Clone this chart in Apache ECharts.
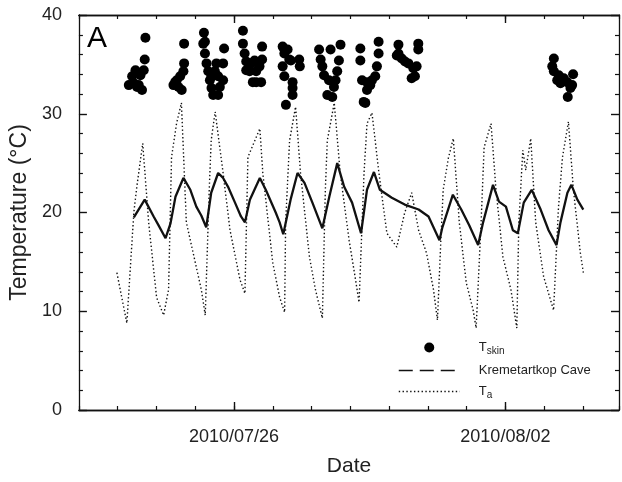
<!DOCTYPE html>
<html>
<head>
<meta charset="utf-8">
<script src="https://cdn.jsdelivr.net/npm/echarts@6/dist/echarts.min.js"></script>
<style>html,body{margin:0;padding:0;background:#fff}#c{width:622px;height:482px}</style>
</head>
<body>
<div id="c"></div>
<script>
// ---- data (times are 2010, "MM-DD HH:MM") ----
const xRange = ['07-22 00:00', '08-04 22:20'];
const tickTimes = ['07-26 00:00', '08-02 00:00'];
const tickLabels = ['2010/07/26', '2010/08/02'];

const taTime = ['07-22 23:30','07-23 05:40','07-23 10:00','07-23 11:50','07-23 15:30','07-23 19:10','07-24 00:05','07-24 04:25','07-24 07:30','07-24 09:20','07-24 12:25','07-24 15:27','07-24 18:30','07-25 00:05','07-25 03:45','07-25 06:12','07-25 08:40','07-25 09:53','07-25 12:20','07-25 17:15','07-25 21:33','07-26 03:42','07-26 06:46','07-26 08:37','07-26 16:00','07-26 17:50','07-27 00:00','07-27 04:16','07-27 07:20','07-27 07:58','07-27 10:25','07-27 14:07','07-27 17:11','07-27 22:42','07-28 02:24','07-28 06:42','07-28 08:33','07-28 09:46','07-28 14:04','07-28 17:45','07-28 23:15','07-29 02:57','07-29 05:25','07-29 08:30','07-29 10:20','07-29 13:25','07-29 17:43','07-29 22:38','07-30 04:46','07-30 09:42','07-30 14:00','07-30 18:17','07-30 23:11','07-31 03:29','07-31 05:57','07-31 08:00','07-31 09:30','07-31 12:42','07-31 15:46','07-31 19:28','07-31 23:46','08-01 04:03','08-01 05:54','08-01 08:58','08-01 10:50','08-01 15:07','08-01 18:12','08-01 22:29','08-02 03:24','08-02 07:05','08-02 08:19','08-02 10:47','08-02 12:37','08-02 15:42','08-02 18:46','08-02 23:41','08-03 05:50','08-03 08:54','08-03 11:21','08-03 15:02','08-03 18:07','08-03 22:25','08-04 00:16'];
const taValue = [13.9,8.8,20,22.6,27.0,19,11.4,9.6,12.2,25.6,29,31.1,19,14.9,12.2,9.6,22.3,27.3,30.2,24,18.2,13.2,11.8,25.6,28.5,24,14.9,11.4,9.9,19,27.3,30.7,24,15.5,12.2,9.3,22.3,27.3,31.1,24,17.2,13.5,10.9,24,29,30.1,24,17.9,16.5,20,22,18.2,15.9,12.2,9.1,17,22.3,25.5,27.5,19,12.9,10.1,8.3,19,26.6,29,22.3,15.5,12.2,8.3,19,26.3,24.3,27.5,19,13.5,10.1,20.6,25.6,29.2,22.3,15.9,13.9];

const caveTime = ['07-23 10:00','07-23 16:44','07-23 22:15','07-24 01:19','07-24 05:38','07-24 08:42','07-24 11:46','07-24 16:41','07-24 20:58','07-25 00:40','07-25 03:45','07-25 06:49','07-25 09:53','07-25 14:11','07-25 17:15','07-25 20:19','07-26 00:37','07-26 04:19','07-26 06:46','07-26 09:50','07-26 16:00','07-26 19:40','07-27 01:49','07-27 04:15','07-27 06:30','07-27 11:02','07-27 15:20','07-27 19:38','07-28 00:32','07-28 06:42','07-28 11:00','07-28 15:55','07-28 20:12','07-29 01:06','07-29 06:38','07-29 10:19','07-29 14:38','07-29 18:19','07-30 01:41','07-30 09:40','07-30 18:17','07-31 00:25','07-31 07:12','07-31 09:00','07-31 15:30','07-31 20:41','08-01 01:36','08-01 07:08','08-01 10:12','08-01 16:20','08-01 20:01','08-02 00:20','08-02 04:38','08-02 07:42','08-02 11:22','08-02 16:17','08-02 21:50','08-03 02:44','08-03 07:39','08-03 10:06','08-03 14:24','08-03 16:52','08-03 20:33','08-04 00:14'];
const caveValue = [19.5,21.3,19.6,18.7,17.4,18.9,21.6,23.5,22.3,20.6,19.7,18.5,22,24,23.5,22.6,21,19.6,19.0,21.3,23.5,22.3,20,19,17.8,21.3,24,23,21,18.4,21.6,25,22.6,21,17.9,22.3,24.1,22.3,21.5,20.8,20.3,19.6,17.2,18.5,21.8,20.3,18.7,16.7,19,22.8,21.1,20.6,18.2,17.9,21,22.3,20.3,18.2,16.7,19,22,22.8,21.3,20.3];

const tskinTime = [
 '07-23 17:10','07-23 16:44','07-23 16:07','07-23 14:05','07-23 11:01','07-23 08:56','07-23 06:54','07-23 09:58','07-23 13:02','07-23 15:04','07-23 12:00',
 '07-24 17:07','07-24 17:07','07-24 16:41','07-24 14:40','07-24 11:35','07-24 10:32','07-24 13:37','07-24 15:38','07-24 12:34',
 '07-25 05:24','07-25 06:01','07-25 06:01','07-25 07:00','07-25 08:03','07-25 09:05','07-25 10:04','07-25 11:07','07-25 14:11','07-25 15:14','07-25 17:15','07-25 17:15','07-25 17:52','07-25 13:08','07-25 12:10','07-25 14:11','07-25 04:58','07-25 10:04',
 '07-26 05:32','07-26 05:32','07-26 06:35','07-26 07:34','07-26 07:34','07-26 10:38','07-26 12:44','07-26 13:43','07-26 15:48','07-26 17:24','07-26 17:24','07-26 13:43','07-26 11:41','07-26 16:47','07-26 09:40',
 '07-27 06:07','07-27 07:10','07-27 09:11','07-27 10:14','07-27 06:07','07-27 07:10','07-27 12:16','07-27 12:16','07-27 12:16','07-27 08:08','07-27 16:22','07-27 16:44','07-27 11:13',
 '07-28 04:40','07-28 05:38','07-28 06:41','07-28 07:44','07-28 10:48','07-28 09:46','07-28 12:50','07-28 14:52','07-28 15:54','07-28 16:57','07-28 17:56','07-28 11:47','07-28 13:52',
 '07-29 06:13','07-29 06:13','07-29 07:16','07-29 10:20','07-29 10:20','07-29 08:18','07-29 13:24','07-29 15:26','07-29 16:28','07-29 17:31','07-29 17:31','07-29 12:22','07-29 09:17',
 '07-30 05:48','07-30 05:48','07-30 07:50','07-30 09:52','07-30 11:57','07-30 15:01','07-30 13:59','07-30 17:03','07-30 18:05','07-30 18:05','07-30 16:00','07-30 04:46',
 '08-03 06:00','08-03 05:01','08-03 06:00','08-03 08:05','08-03 10:07','08-03 12:09','08-03 14:14','08-03 16:16','08-03 14:37','08-03 17:55','08-03 17:19','08-03 09:04'
];
const tskinValue = [
 37.7,35.5,34.4,33.9,34.4,33.8,32.9,33.1,32.9,32.4,32.7,
 37.1,35.1,34.3,33.8,33.2,32.9,32.7,32.4,33.4,
 38.2,37.3,36.1,35.1,34.3,33.4,32.6,31.9,31.9,32.7,33.4,35.1,36.6,35.1,34.3,33.8,37.1,33.8,
 38.4,37.1,36.1,35.3,34.4,35.1,35.4,34.3,34.8,35.5,36.8,33.2,33.2,33.2,34.3,
 36.8,36.1,36.5,35.5,34.8,33.8,33.2,32.6,31.9,30.9,35.5,34.8,35.4,
 36.5,35.5,34.8,33.9,33.4,31.9,31.7,33.4,34.3,35.4,37.0,36.5,32.7,
 36.6,35.4,33.4,33.2,32.4,31.2,33.4,33.8,34.8,36.1,37.3,32.9,31.1,
 37.0,36.1,35.6,35.3,35.1,34.6,33.6,34.8,36.5,37.1,33.8,35.9,
 35.6,34.8,34.3,33.4,33.1,33.6,33.2,32.6,31.7,34.0,32.9,33.9
];

// ---- helpers ----
function ts(s) {
  const p = s.split(' '); const md = p[0].split('-'); const hm = p[1].split(':');
  return Date.UTC(2010, +md[0] - 1, +md[1], +hm[0], +hm[1]);
}
const pairs = (t, v) => t.map((s, i) => [ts(s), v[i]]);
const DAY = 86400000;
const xMin = ts(xRange[0]), xMax = ts(xRange[1]);
const majorTicks = tickTimes.map(ts);
const FONT = 'Liberation Sans, Arial, sans-serif';
const INK = '#111';

const axisLine = { show: true, lineStyle: { color: INK, width: 1.3 } };
function xAx(pos, major, labels) {
  const a = {
    type: 'value', min: xMin, max: xMax, position: pos,
    axisLine: axisLine, splitLine: { show: false },
    axisLabel: { show: false }, axisTick: { show: true, inside: true, length: 4, lineStyle: { color: INK, width: 1.2 } }
  };
  if (major) {
    a.axisTick = { show: true, inside: true, length: 8, customValues: majorTicks, lineStyle: { color: INK, width: 1.4 } };
    if (labels) {
      a.axisLabel = {
        show: true, customValues: majorTicks, margin: 18, fontSize: 18, color: '#222', fontFamily: FONT,
        formatter: v => tickLabels[majorTicks.indexOf(v)] || ''
      };
    }
  } else {
    a.interval = DAY;
  }
  return a;
}
function yAx(pos, labels) {
  return {
    type: 'value', min: 0, max: 40, interval: 10, position: pos,
    axisLine: axisLine, splitLine: { show: false },
    axisTick: { show: true, inside: true, length: 8, lineStyle: { color: INK, width: 1.4 } },
    minorTick: { show: true, splitNumber: 5, length: 4, lineStyle: { color: INK, width: 1.2 } },
    axisLabel: { show: labels, margin: 17, fontSize: 18, color: '#222', fontFamily: FONT },
    name: labels ? 'Temperature (°C)' : '', nameLocation: 'middle', nameGap: 45,
    nameTextStyle: { fontSize: 23, color: '#222', fontFamily: FONT }
  };
}

const xAxes = [xAx('bottom', false), xAx('bottom', true, true), xAx('top', false), xAx('top', true, false)];
xAxes[1].name = 'Date';
xAxes[1].nameLocation = 'middle';
xAxes[1].nameGap = 46;
xAxes[1].nameTextStyle = { fontSize: 21, color: '#222', fontFamily: FONT };

const hiddenMarker = { opacity: 0, color: 'rgba(0,0,0,0)', borderWidth: 0 };

const chart = echarts.init(document.getElementById('c'), null, { renderer: 'canvas' });
chart.setOption({
  animation: false,
  backgroundColor: '#fff',
  textStyle: { fontFamily: FONT },
  title: { text: 'A', left: 82, top: 19, textStyle: { fontSize: 30, fontWeight: 'normal', color: '#000', fontFamily: FONT } },
  grid: { left: 74, right: 3, top: 15, bottom: 72, containLabel: false },
  xAxis: xAxes,
  yAxis: [yAx('left', true), yAx('right', false)],
  legend: {
    orient: 'vertical', left: 393, top: 336, itemWidth: 61, itemHeight: 10, itemGap: 8,
    data: [
      { name: 'Tskin', icon: 'circle' },
      { name: 'Kremetartkop Cave', itemStyle: hiddenMarker, lineStyle: { type: [14, 7], width: 1.5, color: INK, opacity: 1 } },
      { name: 'Ta', itemStyle: hiddenMarker, lineStyle: { type: [1.4, 2.4], width: 1.3, color: INK, opacity: 1 } }
    ],
    textStyle: {
      fontFamily: FONT, color: '#222', fontSize: 13,
      rich: {
        m: { fontSize: 13, color: '#222', padding: [0, 0, 0, 14], fontFamily: FONT },
        s: { fontSize: 10, color: '#222', verticalAlign: 'bottom', padding: [7, 0, 0, 0], fontFamily: FONT }
      }
    },
    formatter: function (name) {
      if (name === 'Tskin') return '{m|T}{s|skin}';
      if (name === 'Ta') return '{m|T}{s|a}';
      return '{m|' + name + '}';
    }
  },
  series: [
    { name: 'Ta', type: 'line', symbol: 'none', data: pairs(taTime, taValue),
      lineStyle: { color: INK, width: 1.4, type: [1.4, 2.4] }, itemStyle: { color: INK }, z: 2 },
    { name: 'Kremetartkop Cave', type: 'line', symbol: 'none', data: pairs(caveTime, caveValue),
      lineStyle: { color: INK, width: 2.3 }, itemStyle: { color: INK }, z: 3 },
    { name: 'Tskin', type: 'scatter', symbol: 'circle', symbolSize: 10, data: pairs(tskinTime, tskinValue),
      itemStyle: { color: '#000', opacity: 1 }, z: 4 }
  ]
});
</script>
</body>
</html>
